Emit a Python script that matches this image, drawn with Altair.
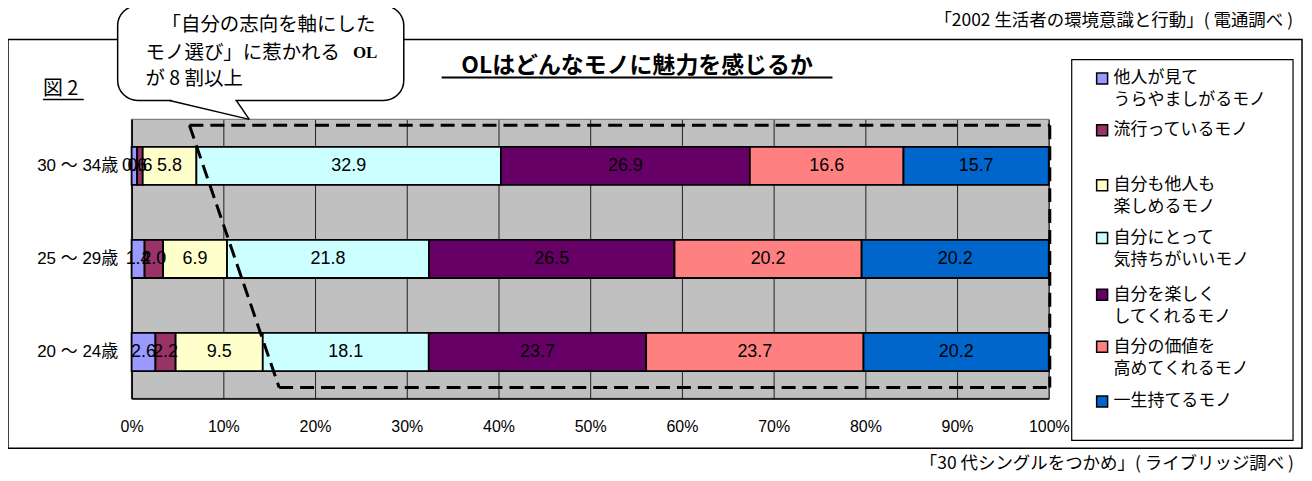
import altair as alt
import pandas as pd

# ---------------- data ----------------
ages = ["30 ～ 34歳", "25 ～ 29歳", "20 ～ 24歳"]
series = [
    "他人が見てうらやましがるモノ",
    "流行っているモノ",
    "自分も他人も楽しめるモノ",
    "自分にとって気持ちがいいモノ",
    "自分を楽しくしてくれるモノ",
    "自分の価値を高めてくれるモノ",
    "一生持てるモノ",
]
legend_lines = [
    ["他人が見て", "うらやましがるモノ"],
    ["流行っているモノ"],
    ["自分も他人も", "楽しめるモノ"],
    ["自分にとって", "気持ちがいいモノ"],
    ["自分を楽しく", "してくれるモノ"],
    ["自分の価値を", "高めてくれるモノ"],
    ["一生持てるモノ"],
]
colors = ["#9999FF", "#993366", "#FFFFCC", "#CCFFFF", "#660066", "#FF8080", "#0066CC"]
values_30_34 = [0.6, 0.6, 5.8, 32.9, 26.9, 16.6, 15.7]
values_25_29 = [1.4, 2.0, 6.9, 21.8, 26.5, 20.2, 20.2]
values_20_24 = [2.6, 2.2, 9.5, 18.1, 23.7, 23.7, 20.2]
x_ticks = [0, 0.1, 0.2, 0.3, 0.4, 0.5, 0.6, 0.7, 0.8, 0.9, 1.0]

title_text = "OLはどんなモノに魅力を感じるか"
fig_label = "図 2"
bubble_lines = ["「自分の志向を軸にした", "モノ選び」に惹かれる", "が 8 割以上"]
bubble_ol = "OL"
source_top = "「2002 生活者の環境意識と行動」( 電通調べ )"
source_bottom = "「30 代シングルをつかめ」( ライブリッジ調べ )"

rows = []
for age, vals in zip(ages, [values_30_34, values_25_29, values_20_24]):
    for i, (s, v) in enumerate(zip(series, vals)):
        rows.append({"age": age, "series": s, "value": v, "order": i})
df = pd.DataFrame(rows)
dummy = pd.DataFrame({"a": [0]})

JP = "Noto Sans CJK JP"
NUM = "Liberation Sans, Noto Sans CJK JP"

# ---------------- bars ----------------
base = alt.Chart(df).transform_joinaggregate(
    total="sum(value)", groupby=["age"]
).transform_window(
    cum="sum(value)", groupby=["age"], sort=[alt.SortField("order")],
    frame=[None, 0]
).transform_calculate(
    start="(datum.cum - datum.value) / datum.total",
    end="datum.cum / datum.total",
    mid="(datum.cum - datum.value / 2) / datum.total",
)

yenc = alt.Y(
    "age:N", sort=ages, title=None,
    scale=alt.Scale(paddingInner=0.59, paddingOuter=0.295),
    axis=alt.Axis(labelFont=NUM, labelFontSize=17, labelColor="black",
                  ticks=False, labelPadding=14, domainColor="black",
                  domainWidth=1.5, grid=False),
)

bars = base.mark_bar(stroke="black", strokeWidth=1.8).encode(
    x=alt.X("start:Q", scale=alt.Scale(domain=[0, 1], nice=False), title=None,
            axis=alt.Axis(values=x_ticks, format=".0%", labelFont=NUM,
                          labelFontSize=16, labelColor="black", ticks=False,
                          labelPadding=20, labelFlush=False, labelOverlap=False,
                          domainColor="black", domainWidth=1.5,
                          grid=True, gridColor="#222222", gridWidth=1)),
    x2="end:Q",
    y=yenc,
    color=alt.Color("series:N", scale=alt.Scale(domain=series, range=colors),
                    legend=None),
)

labels = base.mark_text(font=NUM, fontSize=18, color="black").encode(
    x="mid:Q",
    y=alt.Y("age:N", sort=ages),
    text=alt.Text("value:Q", format=".1f"),
)

layers = [bars, labels]

# ---------------- annotations (pixel positions relative to plot origin) ----
def rect(x, x2, y, y2, **kw):
    return alt.Chart(dummy).mark_rect(**kw).encode(
        x=alt.value(x), x2=alt.value(x2), y=alt.value(y), y2=alt.value(y2))

def line(x, y, x2, y2, **kw):
    return alt.Chart(dummy).mark_rule(**kw).encode(
        x=alt.value(x), x2=alt.value(x2), y=alt.value(y), y2=alt.value(y2))

def text(t, x, y, **kw):
    return alt.Chart(dummy).mark_text(**kw).encode(
        x=alt.value(x), y=alt.value(y), text=alt.value(t))

# outer frame
layers.append(rect(-124, 1174, -80, 330, fill="white", fillOpacity=0,
                   stroke="black", strokeWidth=1.5))

# speech bubble
layers.append(rect(-14, 273, -114, -19, fill="white", stroke="black",
                   strokeWidth=1.5, cornerRadius=20))
layers.append(rect(40, 104, -21, -17, fill="white", strokeWidth=0))
layers.append(line(38, -19, 118, 0, color="black", strokeWidth=1.5))
layers.append(line(105, -19, 118, 0, color="black", strokeWidth=1.5))
bx = [30, 14, 14]
by = [-95, -67, -40]
for t, x, y in zip(bubble_lines, bx, by):
    layers.append(text(t, x, y, font=JP, fontSize=19.5, align="left",
                       baseline="middle", color="black"))
layers.append(text(bubble_ol, 222, -67, font="Liberation Serif", fontSize=17,
                   fontWeight="bold", align="left", baseline="middle",
                   color="black"))

# title
layers.append(text(title_text, 507, -54, font=JP, fontSize=23,
                   fontWeight="bold", align="center", baseline="middle",
                   color="black"))
layers.append(line(311, -42, 703, -42, color="black", strokeWidth=2))

# figure label
layers.append(text(fig_label, -89, -30, font=JP, fontSize=20, align="left",
                   baseline="middle", color="black"))
layers.append(line(-89, -20, -48, -20, color="black", strokeWidth=1.5))

# sources
layers.append(text(source_top, 1165, -99, font=JP, fontSize=17.5,
                   align="right", baseline="middle", color="black"))
layers.append(text(source_bottom, 1166, 346, font=JP, fontSize=17.5,
                   align="right", baseline="middle", color="black"))

# legend
layers.append(rect(943, 1165, -60, 322, fill="white", stroke="black",
                   strokeWidth=1.2))
leg_y = [-41, 11, 66, 119, 176, 228, 283]
for col, lines_, y in zip(colors, legend_lines, leg_y):
    layers.append(rect(968, 979, y - 5.5, y + 5.5, fill=col, stroke="black",
                       strokeWidth=1.5))
    for k, ln in enumerate(lines_):
        layers.append(text(ln, 985, y + 22 * k, font=JP, fontSize=17,
                           align="left", baseline="middle", color="black"))

# dashed highlight box
dash = dict(color="black", strokeWidth=3, strokeDash=[14, 7])
layers.append(line(58, 6, 921, 6, **dash))
layers.append(line(921, 6, 921, 269, **dash))
layers.append(line(148, 269, 921, 269, **dash))
layers.append(line(58, 6, 148, 269, **dash))

chart = alt.layer(*layers).properties(
    width=920, height=280,
    autosize=alt.AutoSizeParams(type="none"),
    padding={"left": 124, "top": 111, "right": 256, "bottom": 74},
    background="white",
).configure_view(fill="#C0C0C0", stroke="#808080", strokeWidth=1.5)

chart.save("out.html", embed_options={"renderer": "svg", "actions": False})
